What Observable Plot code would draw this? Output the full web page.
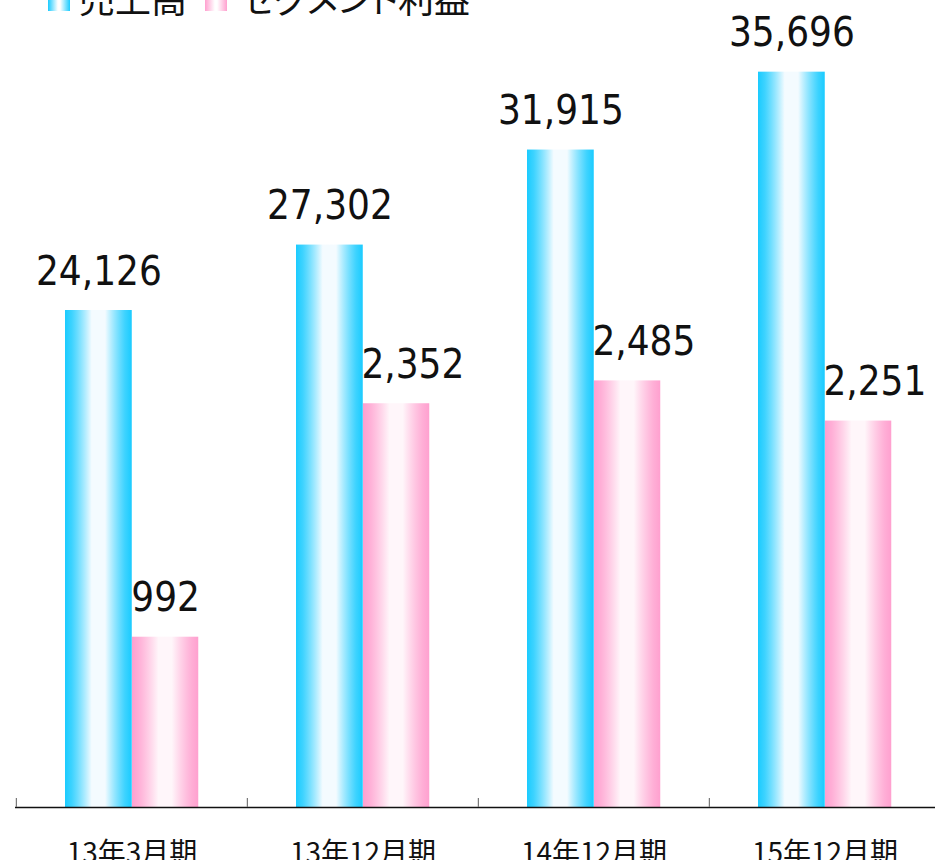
<!DOCTYPE html>
<html><head><meta charset="utf-8">
<script src="https://cdn.jsdelivr.net/npm/d3@7"></script>
<script src="https://cdn.jsdelivr.net/npm/@observablehq/plot@0.6"></script>
<style>
html,body{margin:0;padding:0;background:#fff;overflow:hidden}
#wrap{position:relative;width:935px;height:860px;overflow:hidden;background:#fff}
#chart{position:absolute;left:0;top:0}
.lg-text{position:absolute;font-family:"Noto Sans CJK JP";font-size:36px;line-height:36px;color:#111;font-feature-settings:"palt";white-space:nowrap}
.sw{position:absolute;width:22px;height:22px}
svg [font-family*="Condensed"]{font-stretch:condensed}
</style></head>
<body><div id="wrap"><div id="chart"></div><div id="legend"></div></div>
<script>
// ---- data ----
const categories = ["13年3月期", "13年12月期", "14年12月期", "15年12月期"];
const sales = [24126, 27302, 31915, 35696];          // 売上高
const profit = [992, 2352, 2485, 2251];              // セグメント利益
const seriesNames = ["売上高", "セグメント利益"];
const salesAxisMax = 40000;   // primary (hidden) axis max
const profitAxisMax = 4800;   // secondary (hidden) axis max

// ---- build table ----
const rows = categories.map((c, i) => ({category: c, sales: sales[i], profit: profit[i]}));
const ratio = salesAxisMax / profitAxisMax;
const fmt = d3.format(",");
const blue = "#1ACBFF", pink = "#FFA0CF";

const x0 = 15, x1 = 940;
const bw = (x1 - x0) / categories.length;
const half = bw / 2;

function gradDefs() {
  const defs = d3.create("svg:defs");
  for (const [id, c] of [["gradBlue", blue], ["gradPink", pink]]) {
    const g = defs.append("linearGradient").attr("id", id).attr("x1", "0").attr("x2", "1").attr("y1", "0").attr("y2", "0");
    const stops = [[0, c, 1], [0.1, c, 0.85], [0.4, "#ffffff", 1], [0.5, "#ffffff", 1], [0.6, "#ffffff", 1], [0.9, c, 0.85], [1, c, 1]];
    for (const [o, col, op] of stops) {
      if (col === "#ffffff") g.append("stop").attr("offset", o).attr("stop-color", id === "gradBlue" ? "#F4FBFF" : "#FFF6FA");
      else g.append("stop").attr("offset", o).attr("stop-color", col).attr("stop-opacity", op);
    }
  }
  return defs.node();
}

const labelFont = "DejaVu Sans Condensed, DejaVu Sans";

const chart = Plot.plot({
  width: 935,
  height: 870,
  marginLeft: x0, marginRight: 0, marginTop: 0, marginBottom: 63,
  style: {background: "transparent", overflow: "visible"},
  x: {type: "band", domain: categories, range: [x0, x1], padding: 0, label: null},
  y: {domain: [0, salesAxisMax], range: [807, -17], axis: null},
  marks: [
    gradDefs,
    Plot.barY(rows, {x: "category", y: "sales", fill: "url(#gradBlue)", insetLeft: 49, insetRight: bw - 49 - 67}),
    Plot.barY(rows, {x: "category", y: d => d.profit * ratio, fill: "url(#gradPink)", insetLeft: 116, insetRight: bw - 116 - 66.5}),
    Plot.ruleY([0], {stroke: "#111", strokeWidth: 1.6}),
    Plot.ruleX(categories, {x: d => d, y1: 0, y2: 0, insetTop: -9, dx: -half, stroke: "#777", strokeWidth: 1.2}),
    Plot.axisX({tickSize: 0, tickPadding: 36, fontSize: 28, fontFamily: "Noto Sans CJK JP", fill: "#111", label: null}),
    Plot.text(rows, {x: "category", y: "sales", text: d => fmt(d.sales), dx: 49 + 33.5 - half, dy: -26,
      lineAnchor: "bottom", textAnchor: "middle", fontSize: 40, fontFamily: labelFont, fill: "#111"}),
    Plot.text(rows.filter(d => d.profit < 1000), {x: "category", y: d => d.profit * ratio, text: d => fmt(d.profit),
      dx: 116 + 33.25 - half, dy: -26, lineAnchor: "bottom", textAnchor: "middle", fontSize: 40, fontFamily: labelFont, fill: "#111"}),
    Plot.text(rows.filter(d => d.profit >= 1000), {x: "category", y: d => d.profit * ratio, text: d => fmt(d.profit),
      dx: 116 - half - 2, dy: -26, lineAnchor: "bottom", textAnchor: "start", fontSize: 40, fontFamily: labelFont, fill: "#111"})
  ]
});
document.getElementById("chart").appendChild(chart);

// ---- legend (cropped at the top like the reference) ----
const lg = document.getElementById("legend");
const items = [
  {name: seriesNames[0], color: blue, sw: 48, tx: 79},
  {name: seriesNames[1], color: pink, sw: 205, tx: 240}
];
for (const it of items) {
  const s = document.createElement("div");
  s.className = "sw";
  s.style.left = it.sw + "px";
  s.style.top = "-11px";
  s.style.background = `linear-gradient(to right, ${it.color}, #ffffff 45%, #ffffff 55%, ${it.color})`;
  lg.appendChild(s);
  const t = document.createElement("div");
  t.className = "lg-text";
  t.style.left = it.tx + "px";
  t.style.top = "-21px";
  t.textContent = it.name;
  lg.appendChild(t);
}
</script>
</body></html>
